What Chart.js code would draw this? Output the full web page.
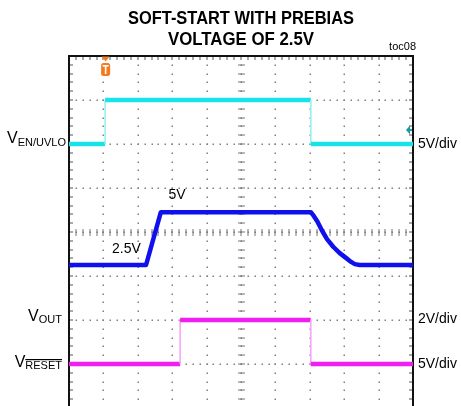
<!DOCTYPE html>
<html><head><meta charset="utf-8">
<script src="https://cdn.jsdelivr.net/npm/chart.js@4/dist/chart.umd.min.js"></script>
<style>
html,body{margin:0;padding:0;background:#fff;overflow:hidden}
#wrap{width:461px;height:406px;overflow:hidden;position:relative;background:#fff}
canvas{display:block}
</style></head><body>
<div id="wrap"><canvas id="c" width="461" height="412"></canvas></div>
<script>
// ---- data (time in divisions, amplitude in volts) ----
const titleLines = ["SOFT-START WITH PREBIAS", "VOLTAGE OF 2.5V"];
const figureTag = "toc08";
const enTime   = [0, 1.05, 1.05, 7.03, 7.03, 10];
const enVolts  = [0, 0, 5, 5, 0, 0];
const outTime  = [0, 2.24, 2.67, 7.03, 7.12, 7.22, 7.35, 7.5, 7.68, 7.87, 8.07, 8.2, 8.31, 8.45, 10];
const outVolts = [2.5, 2.5, 4.9, 4.9, 4.72, 4.48, 4.08, 3.68, 3.33, 3.04, 2.80, 2.64, 2.54, 2.5, 2.5];
const rstTime  = [0, 3.23, 3.23, 7.03, 7.03, 10];
const rstVolts = [0, 0, 5, 5, 0, 0];
const voltsPerDiv = [5, 2, 5];          // EN, OUT, RESET
const groundDiv   = [6, 2, 1];          // channel ground levels (divisions)
const scaleLabels = ["5V/div", "2V/div", "5V/div"];
const annotations = ["5V", "2.5V"];

const FONT = '"Liberation Sans", Arial, Helvetica, sans-serif';

function toPoints(t, v, ch) {
  return t.map((x, i) => ({x: x, y: groundDiv[ch] + v[i] / voltsPerDiv[ch]}));
}
function seg(light, w) {
  return {
    borderWidth: c => c.p0.parsed.x === c.p1.parsed.x ? 1.5 : w,
    borderColor: c => c.p0.parsed.x === c.p1.parsed.x ? light : undefined
  };
}

const gridPlugin = {
  id: 'scopeGrid',
  beforeDatasetsDraw(chart) {
    const {ctx, scales: {x, y}} = chart;
    const L = x.getPixelForValue(0), R = x.getPixelForValue(10);
    const T = y.getPixelForValue(8), B = y.getPixelForValue(0);
    ctx.save();
    ctx.fillStyle = '#808080';
    for (let j = 1; j < 8; j++) {
      const py = Math.round(y.getPixelForValue(j));
      for (let k = 1; k < 50; k++) {
        const px = Math.round(x.getPixelForValue(k * 0.2));
        ctx.fillRect(px - 0.5, py - 0.5, 1.5, 1.5);
      }
    }
    for (let i = 1; i < 10; i++) {
      const px = Math.round(x.getPixelForValue(i));
      for (let k = 1; k < 40; k++) {
        const py = Math.round(y.getPixelForValue(k * 0.2));
        ctx.fillRect(px - 0.5, py - 0.5, 1.5, 1.5);
      }
    }
    ctx.fillStyle = '#777';
    const cy = Math.round(y.getPixelForValue(4)), cx = Math.round(x.getPixelForValue(5));
    for (let k = 1; k < 50; k++) {
      const px = Math.round(x.getPixelForValue(k * 0.2));
      ctx.fillRect(px - 0.5, cy - 3, 1, 7);
    }
    for (let k = 1; k < 40; k++) {
      const py = Math.round(y.getPixelForValue(k * 0.2));
      ctx.fillRect(cx - 3, py - 0.5, 7, 1);
    }
    ctx.fillStyle = '#555';
    for (let k = 1; k < 50; k++) {
      const px = Math.round(x.getPixelForValue(k * 0.2));
      ctx.fillRect(px - 0.5, T, 1, 4);
    }
    for (let k = 1; k < 40; k++) {
      const py = Math.round(y.getPixelForValue(k * 0.2));
      ctx.fillRect(L, py - 0.5, 4, 1);
      ctx.fillRect(R - 4, py - 0.5, 4, 1);
    }
    ctx.strokeStyle = '#111';
    ctx.lineWidth = 2;
    ctx.beginPath();
    ctx.moveTo(L, B + 10); ctx.lineTo(L, T); ctx.lineTo(R, T); ctx.lineTo(R, B + 10);
    ctx.stroke();
    ctx.restore();
  },
  afterDraw(chart) {
    const {ctx, scales: {x, y}} = chart;
    const L = x.getPixelForValue(0), R = x.getPixelForValue(10);
    const T = y.getPixelForValue(8);
    const cxT = (L + R) / 2;
    ctx.save();
    ctx.fillStyle = '#000';
    ctx.textAlign = 'center';
    ctx.textBaseline = 'alphabetic';
    ctx.font = 'bold 19px ' + FONT;
    ctx.fillText(titleLines[0], cxT, 23.5, 226);
    ctx.fillText(titleLines[1], cxT, 45, 146);
    ctx.font = '11px ' + FONT;
    ctx.textAlign = 'right';
    ctx.fillText(figureTag, 416, 50);

    function subLabel(main, sub, rightX, base, subBase, over) {
      ctx.textAlign = 'left';
      ctx.font = '16px ' + FONT;
      const wm = ctx.measureText(main).width;
      ctx.font = '11px ' + FONT;
      const ws = ctx.measureText(sub).width;
      const x0 = rightX - wm - ws;
      ctx.font = '16px ' + FONT;
      ctx.fillText(main, x0, base);
      ctx.font = '11px ' + FONT;
      ctx.fillText(sub, x0 + wm, subBase);
      if (over) ctx.fillRect(x0 + wm, subBase - 10, ws, 1.2);
    }
    const gEN = y.getPixelForValue(groundDiv[0]);
    const gOUT = y.getPixelForValue(groundDiv[1]);
    const gRST = y.getPixelForValue(groundDiv[2]);
    subLabel('V', 'EN/UVLO', 66, gEN - 1, gEN + 2, false);
    subLabel('V', 'OUT', 62, gOUT + 1, gOUT + 3, false);
    subLabel('V', 'RESET', 62, gRST + 3, gRST + 5, true);

    ctx.font = '14px ' + FONT;
    ctx.textAlign = 'left';
    ctx.fillText(scaleLabels[0], R + 5, gEN + 4);
    ctx.fillText(scaleLabels[1], R + 5, gOUT + 3);
    ctx.fillText(scaleLabels[2], R + 5, gRST + 4);

    ctx.fillText(annotations[0], x.getPixelForValue(2.89), y.getPixelForValue(4.75));
    ctx.fillText(annotations[1], x.getPixelForValue(1.25), y.getPixelForValue(3.53));

    // trigger marker
    const tx = x.getPixelForValue(enTime[1]) + 0.5;
    ctx.fillStyle = '#f57a1e';
    ctx.beginPath();
    ctx.moveTo(tx - 4, T + 0.5); ctx.lineTo(tx + 4, T + 0.5); ctx.lineTo(tx, T + 5.5);
    ctx.closePath(); ctx.fill();
    ctx.beginPath();
    ctx.roundRect(tx - 4.5, T + 7, 9, 13, 2.5);
    ctx.fill();
    ctx.fillStyle = '#fff';
    ctx.fillRect(tx - 3, T + 9, 6, 1.6);
    ctx.fillRect(tx - 0.8, T + 9, 1.6, 9);

    // trigger-level arrow
    const ay = y.getPixelForValue(groundDiv[0] + 0.32);
    ctx.fillStyle = '#189aa0';
    ctx.beginPath();
    ctx.moveTo(R - 7, ay); ctx.lineTo(R - 3, ay - 4.5); ctx.lineTo(R - 3, ay + 4.5);
    ctx.closePath(); ctx.fill();
    ctx.fillRect(R - 4, ay - 1, 3, 2);
    ctx.restore();
  }
};

new Chart(document.getElementById('c'), {
  type: 'line',
  data: {
    datasets: [
      {label: 'EN/UVLO', data: toPoints(enTime, enVolts, 0), borderColor: '#19e3ea',
       borderWidth: 4.5, segment: seg('#8ff0f3', 4.5)},
      {label: 'OUT', data: toPoints(outTime, outVolts, 1), borderColor: '#1010ee',
       borderWidth: 4.5, segment: seg('#1010ee', 4.5)},
      {label: 'RESET', data: toPoints(rstTime, rstVolts, 2), borderColor: '#f01ef0',
       borderWidth: 4.5, segment: seg('#f6a0f6', 4.5)}
    ]
  },
  options: {
    responsive: false,
    animation: false,
    events: [],
    layout: {padding: {left: 69, right: 48, top: 56, bottom: 4}},
    elements: {point: {radius: 0}, line: {tension: 0, borderJoinStyle: 'round', borderCapStyle: 'butt'}},
    plugins: {legend: {display: false}, title: {display: false}, tooltip: {enabled: false}},
    scales: {
      x: {type: 'linear', min: 0, max: 10, display: false},
      y: {type: 'linear', min: 0, max: 8, display: false}
    }
  },
  plugins: [gridPlugin]
});
</script>
</body></html>
